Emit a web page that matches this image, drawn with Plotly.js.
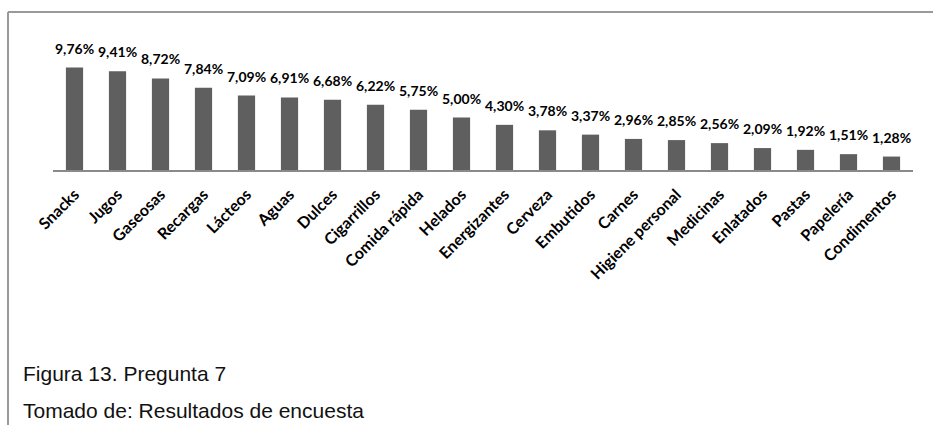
<!DOCTYPE html>
<html>
<head>
<meta charset="utf-8">
<script src="https://cdn.plot.ly/plotly-3.0.1.min.js"></script>
<style>html,body{margin:0;padding:0;background:#fff;}#chart{width:933px;height:425px;}</style>
</head>
<body>
<div id="chart"></div>
<script>
const categories = ["Snacks","Jugos","Gaseosas","Recargas","Lácteos","Aguas","Dulces","Cigarrillos","Comida rápida","Helados","Energizantes","Cerveza","Embutidos","Carnes","Higiene personal","Medicinas","Enlatados","Pastas","Papelería","Condimentos"];
const values = [9.76,9.41,8.72,7.84,7.09,6.91,6.68,6.22,5.75,5.00,4.30,3.78,3.37,2.96,2.85,2.56,2.09,1.92,1.51,1.28];
const labels = ["9,76%","9,41%","8,72%","7,84%","7,09%","6,91%","6,68%","6,22%","5,75%","5,00%","4,30%","3,78%","3,37%","2,96%","2,85%","2,56%","2,09%","1,92%","1,51%","1,28%"];
const captionLines = ["Figura 13. Pregunta 7","Tomado de: Resultados de encuesta"];

// pixel geometry helpers
const L = 53, R = 20, T = 44, B = 255, W = 933, H = 425;
const pw = W - L - R, ph = H - T - B;
const px = x => (x - L) / pw;
const py = y => (H - B - y) / ph;

const annotations = categories.map((c, i) => ({
  x: c, y: values[i], xref: 'x', yref: 'y', text: labels[i], showarrow: false,
  yanchor: 'bottom', xanchor: 'center', yshift: 9,
  font: {family: 'Lato, sans-serif', size: 14, color: '#000', weight: 'bold'}
}));
annotations.push({x: px(21), y: py(373), xref: 'paper', yref: 'paper', xanchor: 'left', yanchor: 'middle',
  text: captionLines[0], showarrow: false, font: {family: 'Liberation Sans, Arial, sans-serif', size: 21, color: '#111'}});
annotations.push({x: px(21), y: py(410), xref: 'paper', yref: 'paper', xanchor: 'left', yanchor: 'middle',
  text: captionLines[1], showarrow: false, font: {family: 'Liberation Sans, Arial, sans-serif', size: 21, color: '#111'}});

const data = [{
  type: 'bar', x: categories, y: values,
  marker: {color: '#5f5f5f', line: {width: 0}},
  hoverinfo: 'none'
}];

const layout = {
  width: W, height: H,
  margin: {l: L, r: R, t: T, b: B, pad: 0},
  paper_bgcolor: '#fff', plot_bgcolor: '#fff',
  showlegend: false,
  bargap: 0.6,
  xaxis: {
    type: 'category', showline: true, linecolor: '#8a8a8a', linewidth: 2,
    ticks: 'outside', ticklen: 7, tickcolor: 'rgba(0,0,0,0)', tickangle: -45, showgrid: false, zeroline: false,
    tickfont: {family: 'Lato, sans-serif', size: 16, color: '#000', weight: 'bold'},
    fixedrange: true
  },
  yaxis: {range: [0, 12], visible: false, showgrid: false, zeroline: false, fixedrange: true},
  annotations: annotations,
  shapes: [
    {type: 'line', xref: 'paper', yref: 'paper', x0: px(8), x1: px(933), y0: py(12), y1: py(12), line: {color: '#9a9a9a', width: 2}},
    {type: 'line', xref: 'paper', yref: 'paper', x0: px(8), x1: px(8), y0: py(12), y1: py(425), line: {color: '#9a9a9a', width: 2}}
  ]
};

Plotly.newPlot('chart', data, layout, {staticPlot: true, displayModeBar: false});
</script>
</body>
</html>
